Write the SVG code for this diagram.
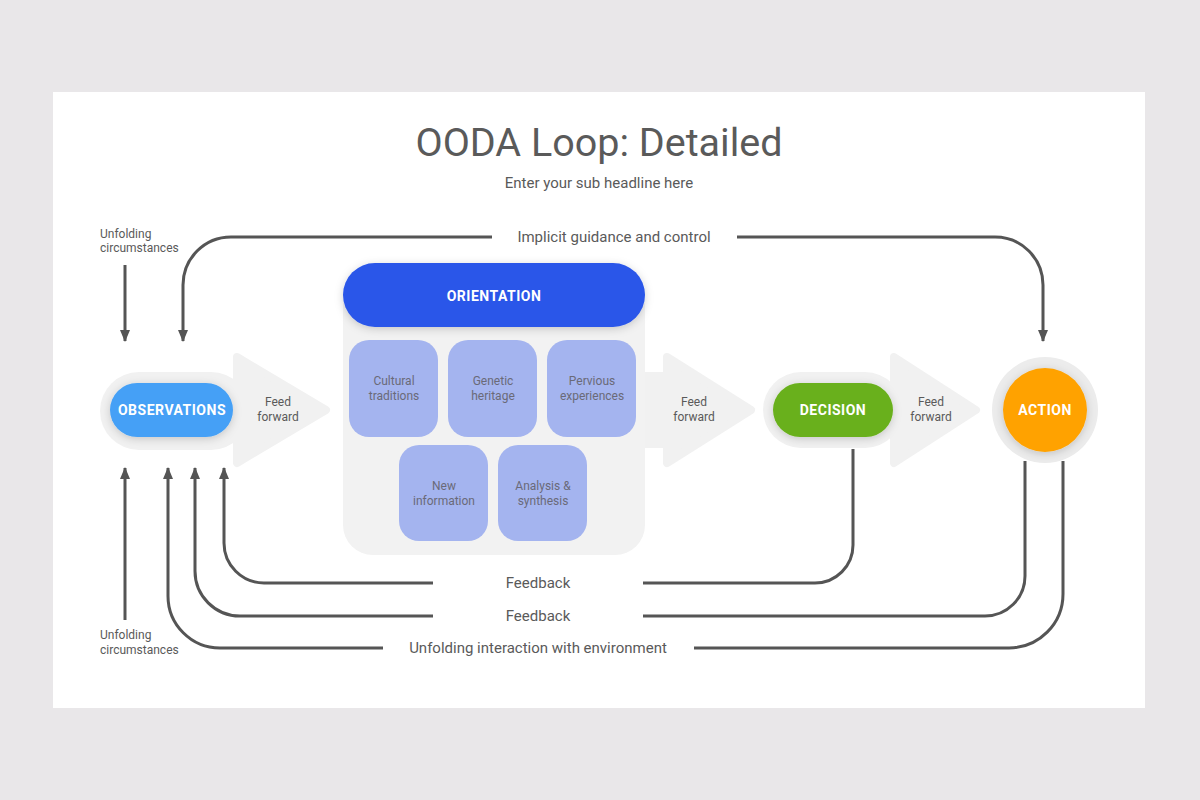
<svg xmlns="http://www.w3.org/2000/svg" width="1200" height="800" viewBox="0 0 1200 800">
<defs>
<style>
.t{font-family:Roboto,"Liberation Sans",sans-serif;fill:#5a5a5a;text-anchor:middle}
.sm{font-size:12px}
.md{font-size:15px}
.bx{font-size:12px;fill:#6a6a78}
.lbl{font-family:Roboto,"Liberation Sans",sans-serif;font-weight:bold;font-size:14px;letter-spacing:0.5px;fill:#fff;text-anchor:middle}
.ln{fill:none;stroke:#555;stroke-width:3}
.g{fill:#f1f1f1}
.box{fill:#a4b4ef}
</style>
<marker id="ah" viewBox="0 0 12 10" markerWidth="12" markerHeight="10" refX="11" refY="5" orient="auto" markerUnits="userSpaceOnUse">
<path d="M0,0 L12,5 L0,10 z" fill="#555"/>
</marker>
<filter id="sh" x="-30%" y="-40%" width="160%" height="180%">
<feDropShadow dx="0" dy="2" stdDeviation="4" flood-color="#000" flood-opacity="0.18"/>
</filter>
</defs>
<rect width="1200" height="800" fill="#e9e7e9"/>
<rect x="53" y="92" width="1092" height="616" fill="#fff"/>
<text class="t" x="599" y="156" font-size="39.5">OODA Loop: Detailed</text>
<text class="t" x="599" y="188" font-size="15">Enter your sub headline here</text>

<g id="arrow-bg">
<rect class="g" x="100" y="372" width="150" height="78" rx="39"/>
<path class="g" d="M237,357 L326,410 L237,463 Z" stroke="#f1f1f1" stroke-width="8" stroke-linejoin="round"/>
<rect class="g" x="630" y="372" width="45" height="76"/>
<path class="g" d="M667,357 L751,410 L667,463 Z" stroke="#f1f1f1" stroke-width="8" stroke-linejoin="round"/>
<rect class="g" x="763" y="372" width="140" height="76" rx="38"/>
<path class="g" d="M894,357 L976,410 L894,463 Z" stroke="#f1f1f1" stroke-width="8" stroke-linejoin="round"/>
<circle cx="1045" cy="410" r="53" fill="#ececec"/>
</g>

<g id="connectors">
<path class="ln" d="M125,265 V341" marker-end="url(#ah)"/>
<path class="ln" d="M492,237 H231 A48,48 0 0 0 183,285 V341" marker-end="url(#ah)"/>
<path class="ln" d="M737,237 H995 A48,48 0 0 1 1043,285 V341" marker-end="url(#ah)"/>
<path class="ln" d="M125,620 V468" marker-end="url(#ah)"/>
<path class="ln" d="M433,583 H264 A40,40 0 0 1 224,543 V468" marker-end="url(#ah)"/>
<path class="ln" d="M433,616 H240 A45,45 0 0 1 195,571 V468" marker-end="url(#ah)"/>
<path class="ln" d="M383,648 H220 A52,52 0 0 1 168,596 V468" marker-end="url(#ah)"/>
<path class="ln" d="M853,449 V545 A38,38 0 0 1 815,583 H643"/>
<path class="ln" d="M1025,461 V576 A40,40 0 0 1 985,616 H643"/>
<path class="ln" d="M1063,461 V594 A54,54 0 0 1 1009,648 H694"/>
<text class="t md" x="614" y="242">Implicit guidance and control</text>
<text class="t md" x="538" y="588">Feedback</text>
<text class="t md" x="538" y="621">Feedback</text>
<text class="t md" x="538" y="653">Unfolding interaction with environment</text>
<text class="t sm" x="100" y="238" style="text-anchor:start">Unfolding</text>
<text class="t sm" x="100" y="252" style="text-anchor:start">circumstances</text>
<text class="t sm" x="100" y="639" style="text-anchor:start">Unfolding</text>
<text class="t sm" x="100" y="654" style="text-anchor:start">circumstances</text>
<text class="t sm" x="278" y="406">Feed</text>
<text class="t sm" x="278" y="421">forward</text>
<text class="t sm" x="694" y="406">Feed</text>
<text class="t sm" x="694" y="421">forward</text>
<text class="t sm" x="931" y="406">Feed</text>
<text class="t sm" x="931" y="421">forward</text>
</g>

<g id="observations">
<rect x="110" y="383" width="123" height="54" rx="27" fill="#45a0f6" filter="url(#sh)"/>
<text class="lbl" x="172" y="415">OBSERVATIONS</text>
</g>

<g id="orientation">
<rect x="343" y="275" width="302" height="280" rx="30" fill="#f2f2f2"/>
<rect x="343" y="263" width="302" height="64" rx="32" fill="#2a56e9" filter="url(#sh)"/>
<text class="lbl" x="494" y="301">ORIENTATION</text>
</g>
<g id="cultural-traditions">
<rect class="box" x="349" y="340" width="89" height="97" rx="20"/>
<text class="t bx" x="394" y="385">Cultural</text>
<text class="t bx" x="394" y="400">traditions</text>
</g>
<g id="genetic-heritage">
<rect class="box" x="448" y="340" width="89" height="97" rx="20"/>
<text class="t bx" x="493" y="385">Genetic</text>
<text class="t bx" x="493" y="400">heritage</text>
</g>
<g id="pervious-experiences">
<rect class="box" x="547" y="340" width="89" height="97" rx="20"/>
<text class="t bx" x="592" y="385">Pervious</text>
<text class="t bx" x="592" y="400">experiences</text>
</g>
<g id="new-information">
<rect class="box" x="399" y="445" width="89" height="96" rx="20"/>
<text class="t bx" x="444" y="490">New</text>
<text class="t bx" x="444" y="505">information</text>
</g>
<g id="analysis-synthesis">
<rect class="box" x="498" y="445" width="89" height="96" rx="20"/>
<text class="t bx" x="543" y="490">Analysis &amp;</text>
<text class="t bx" x="543" y="505">synthesis</text>
</g>

<g id="decision">
<rect x="773" y="383" width="120" height="54" rx="27" fill="#69b01c" filter="url(#sh)"/>
<text class="lbl" x="833" y="415">DECISION</text>
</g>

<g id="action">
<circle cx="1045" cy="410" r="42" fill="#ffa200" filter="url(#sh)"/>
<text class="lbl" x="1045" y="415">ACTION</text>
</g>
</svg>
